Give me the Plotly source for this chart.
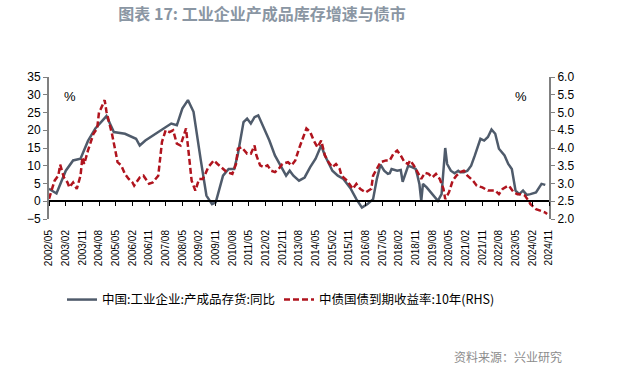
import plotly.graph_objects as go

# ---- data ----
inv_dates = ["2002-05","2002-09","2003-02","2003-06","2003-10","2004-02","2004-06","2004-10","2004-12",
             "2005-04","2005-10","2006-04","2006-06","2006-09","2007-01","2007-06","2007-11","2008-02",
             "2008-05","2008-08","2008-11","2009-03","2009-06","2009-09","2009-11","2010-03","2010-06",
             "2010-09","2010-11","2011-02","2011-04","2011-06","2011-08","2011-10","2012-01","2012-04",
             "2012-07","2012-11","2013-01","2013-03","2013-05","2013-08","2013-11","2014-02","2014-05",
             "2014-08","2014-10","2015-02","2015-05","2015-08","2015-12","2016-03","2016-06","2016-09",
             "2016-12","2017-02","2017-04","2017-06","2017-08","2017-09","2017-10","2018-01","2018-03",
             "2018-04","2018-06","2018-07","2018-09","2018-11","2018-12","2019-01","2019-02","2019-03",
             "2019-05","2019-08","2019-11","2020-01","2020-03","2020-04","2020-06","2020-08","2020-10",
             "2020-11","2021-01","2021-03","2021-05","2021-07","2021-08","2021-10","2021-12","2022-02",
             "2022-04","2022-06","2022-08","2022-11","2023-01","2023-03","2023-05","2023-07","2023-09",
             "2023-11","2024-01","2024-04","2024-07","2024-09"]
inv_values = [3.5, 2.2, 8.6, 11.5, 12.0, 17.0, 20.5, 22.8, 24.0,
              19.5, 19.0, 17.6, 15.7, 17.1, 18.5, 20.2, 21.9, 21.4,
              26.1, 28.5, 25.2, 11.5, 1.6, -0.8, -0.3, 7.2, 9.1,
              9.1, 13.4, 22.3, 23.3, 21.9, 23.7, 24.2, 20.5, 17.1,
              12.9, 9.1, 7.2, 8.6, 7.2, 5.8, 6.7, 9.6, 12.0,
              15.7, 12.9, 8.6, 7.2, 6.3, 3.5, 0.6, -1.8, -0.8,
              0.6, 6.3, 10.3, 8.6, 7.7, 7.9, 9.1, 8.6, 8.8,
              5.5, 8.2, 10.0, 9.6, 9.1, 7.2, 4.9, 0.1, 4.9,
              3.9, 2.0, 0.1, 2.0, 15.0, 10.5, 8.6, 7.9, 8.6,
              8.2, 8.2, 8.6, 10.0, 12.9, 14.3, 17.6, 17.1, 18.1,
              20.2, 19.0, 14.8, 12.9, 10.5, 9.1, 3.0, 2.0, 3.0,
              1.8, 2.0, 2.5, 4.9, 4.6]

yld_dates = ["2002-05","2002-08","2002-10","2002-11","2003-01","2003-03","2003-04","2003-06","2003-08",
             "2003-10","2003-11","2003-12","2004-02","2004-05","2004-07","2004-08","2004-09","2004-11",
             "2004-12","2005-01","2005-03","2005-05","2005-06","2005-08","2005-10","2005-12","2006-02",
             "2006-03","2006-06","2006-08","2006-11","2007-01","2007-04","2007-06","2007-08","2007-10",
             "2007-12","2008-02","2008-04","2008-07","2008-08","2008-10","2008-12","2009-02","2009-04",
             "2009-05","2009-07","2009-10","2009-12","2010-02","2010-05","2010-08","2010-10","2010-11",
             "2011-01","2011-04","2011-06","2011-08","2011-09","2011-11","2012-01","2012-03","2012-05",
             "2012-07","2012-09","2012-11","2013-02","2013-04","2013-06","2013-08","2013-10","2013-12",
             "2014-02","2014-04","2014-06","2014-08","2014-10","2014-12","2015-02","2015-04","2015-06",
             "2015-07","2015-10","2016-01","2016-03","2016-05","2016-08","2016-11","2016-12","2017-02",
             "2017-04","2017-07","2017-09","2017-11","2018-01","2018-03","2018-05","2018-07","2018-08",
             "2018-10","2018-12","2019-02","2019-04","2019-06","2019-08","2019-10","2019-12","2020-02",
             "2020-03","2020-05","2020-07","2020-09","2020-11","2021-01","2021-03","2021-06","2021-08",
             "2021-11","2022-02","2022-05","2022-06","2022-08","2022-10","2023-01","2023-02","2023-04",
             "2023-06","2023-08","2023-10","2023-12","2024-01","2024-04","2024-07","2024-09","2024-10"]
yld_values = [2.57, 3.08, 3.22, 3.53, 3.17, 3.03, 2.89, 3.03, 2.85,
              3.22, 3.74, 3.55, 3.93, 4.40, 4.55, 5.02, 5.11, 5.35,
              5.02, 4.83, 4.40, 3.88, 3.60, 3.51, 3.27, 3.13, 3.03,
              2.94, 3.17, 3.22, 2.99, 3.03, 3.22, 4.17, 4.50, 4.45,
              4.50, 4.12, 4.07, 4.55, 3.98, 3.08, 2.80, 3.13, 3.13,
              3.22, 3.46, 3.65, 3.55, 3.46, 3.32, 3.27, 3.55, 3.98,
              4.02, 3.84, 3.84, 4.07, 3.79, 3.51, 3.46, 3.51, 3.36,
              3.32, 3.41, 3.55, 3.60, 3.51, 3.65, 3.98, 4.26, 4.55,
              4.45, 4.21, 4.02, 4.21, 3.79, 3.60, 3.46, 3.55, 3.41,
              3.22, 3.08, 2.85, 2.99, 2.85, 2.75, 2.85, 3.22, 3.41,
              3.60, 3.65, 3.65, 3.84, 3.93, 3.79, 3.60, 3.55, 3.65,
              3.51, 3.32, 3.13, 3.30, 3.27, 3.17, 3.27, 3.13, 2.85,
              2.56, 2.75, 3.08, 3.22, 3.32, 3.36, 3.22, 3.08, 2.94,
              2.89, 2.80, 2.80, 2.80, 2.70, 2.85, 2.94, 2.89, 2.75,
              2.70, 2.70, 2.66, 2.51, 2.42, 2.28, 2.23, 2.18, 2.14]

tick_labels = ["2002/05","2003/02","2003/11","2004/08","2005/05","2006/02","2006/11","2007/08",
               "2008/05","2009/02","2009/11","2010/08","2011/05","2012/02","2012/11","2013/08",
               "2014/05","2015/02","2015/11","2016/08","2017/05","2018/02","2018/11","2019/08",
               "2020/05","2021/02","2021/11","2022/08","2023/05","2024/02","2024/11"]
tick_vals = [t.replace("/", "-") + "-01" for t in tick_labels]

name_inv = "中国:工业企业:产成品存货:同比"
name_yld = "中债国债到期收益率:10年(RHS)"

GRAY = "#4f5b6b"
RED = "#b0141e"
AXIS = "#808080"
CJK = "Noto Sans CJK SC"
NUM = "Liberation Sans"

fig = go.Figure()
fig.add_trace(go.Scatter(x=inv_dates, y=inv_values, name=name_inv, mode="lines",
                         line=dict(color=GRAY, width=2.5), yaxis="y", xaxis="x", legend="legend"))
fig.add_trace(go.Scatter(x=yld_dates, y=yld_values, name=name_yld, mode="lines",
                         line=dict(color=RED, width=2.5, dash="6px,3px"), yaxis="y2", xaxis="x",
                         legend="legend2"))
# invisible helper trace so the zero-line axis (xaxis2) is rendered
fig.add_trace(go.Scatter(x=[tick_vals[0]], y=[0], mode="markers", marker=dict(opacity=0),
                         xaxis="x2", yaxis="y", showlegend=False, hoverinfo="skip"))

legend_common = dict(orientation="h", xanchor="left", y=-0.57, yanchor="middle",
                     font=dict(family=CJK, size=12.5, color="#000"), bgcolor="rgba(0,0,0,0)",
                     itemwidth=30)

xrange = ["2002-05-01", "2024-11-01"]
fig.update_layout(
    width=620, height=367,
    margin=dict(l=49, r=71, t=77, b=148),
    paper_bgcolor="white", plot_bgcolor="white",
    showlegend=True,
    xaxis=dict(type="date", range=xrange, tickvals=tick_vals, ticktext=tick_labels,
               tickangle=-90, showgrid=False, zeroline=False, showline=False,
               ticks="outside", ticklen=6, tickcolor="rgba(0,0,0,0)",
               tickfont=dict(family=NUM, size=10, color="#000")),
    xaxis2=dict(type="date", range=xrange, tickvals=tick_vals, overlaying="x",
                anchor="free", position=0.125, showline=True, linecolor="#000", linewidth=1.5,
                ticks="outside", ticklen=4, tickcolor="#000", showticklabels=False,
                showgrid=False, zeroline=False),
    yaxis=dict(range=[-5, 35], dtick=5, tick0=0, showgrid=False, zeroline=False,
               showline=True, linecolor=AXIS, linewidth=2, ticks="outside", ticklen=4,
               tickcolor=AXIS, tickfont=dict(family=NUM, size=12, color="#000")),
    yaxis2=dict(range=[2, 6], dtick=0.5, tick0=2, tickformat=".1f", overlaying="y", side="right",
                showgrid=False, zeroline=False, showline=True, linecolor=AXIS, linewidth=2,
                ticks="outside", ticklen=4, tickcolor=AXIS,
                tickfont=dict(family=NUM, size=12, color="#000")),
    legend=dict(x=(62 - 49) / 500, **legend_common),
    legend2=dict(x=(279 - 49) / 500, **legend_common),
    title=dict(text="<b>图表 17: 工业企业产成品库存增速与债市</b>", x=262/620, xanchor="center",
               y=1 - 14/367, yanchor="middle",
               font=dict(family=CJK, size=16, color="#8a96a3")),
)
fig.add_annotation(text="%", xref="paper", yref="paper", x=(62 - 49) / 500, y=(219 - 87) / 142,
                   showarrow=False, font=dict(family=NUM, size=13, color="#000"))
fig.add_annotation(text="%", xref="paper", yref="paper", x=(529 - 49) / 500, y=(219 - 87) / 142,
                   showarrow=False, font=dict(family=NUM, size=13, color="#000"))
fig.add_annotation(text="资料来源：兴业研究", xref="paper", yref="paper", x=(564 - 49) / 500,
                   xanchor="right", y=(219 - 356) / 142, yanchor="middle", showarrow=False,
                   font=dict(family=CJK, size=12, color="#8c8c8c"))

fig.write_html("out.html", config={"displayModeBar": False},
               post_script="document.body.style.margin='0';")
